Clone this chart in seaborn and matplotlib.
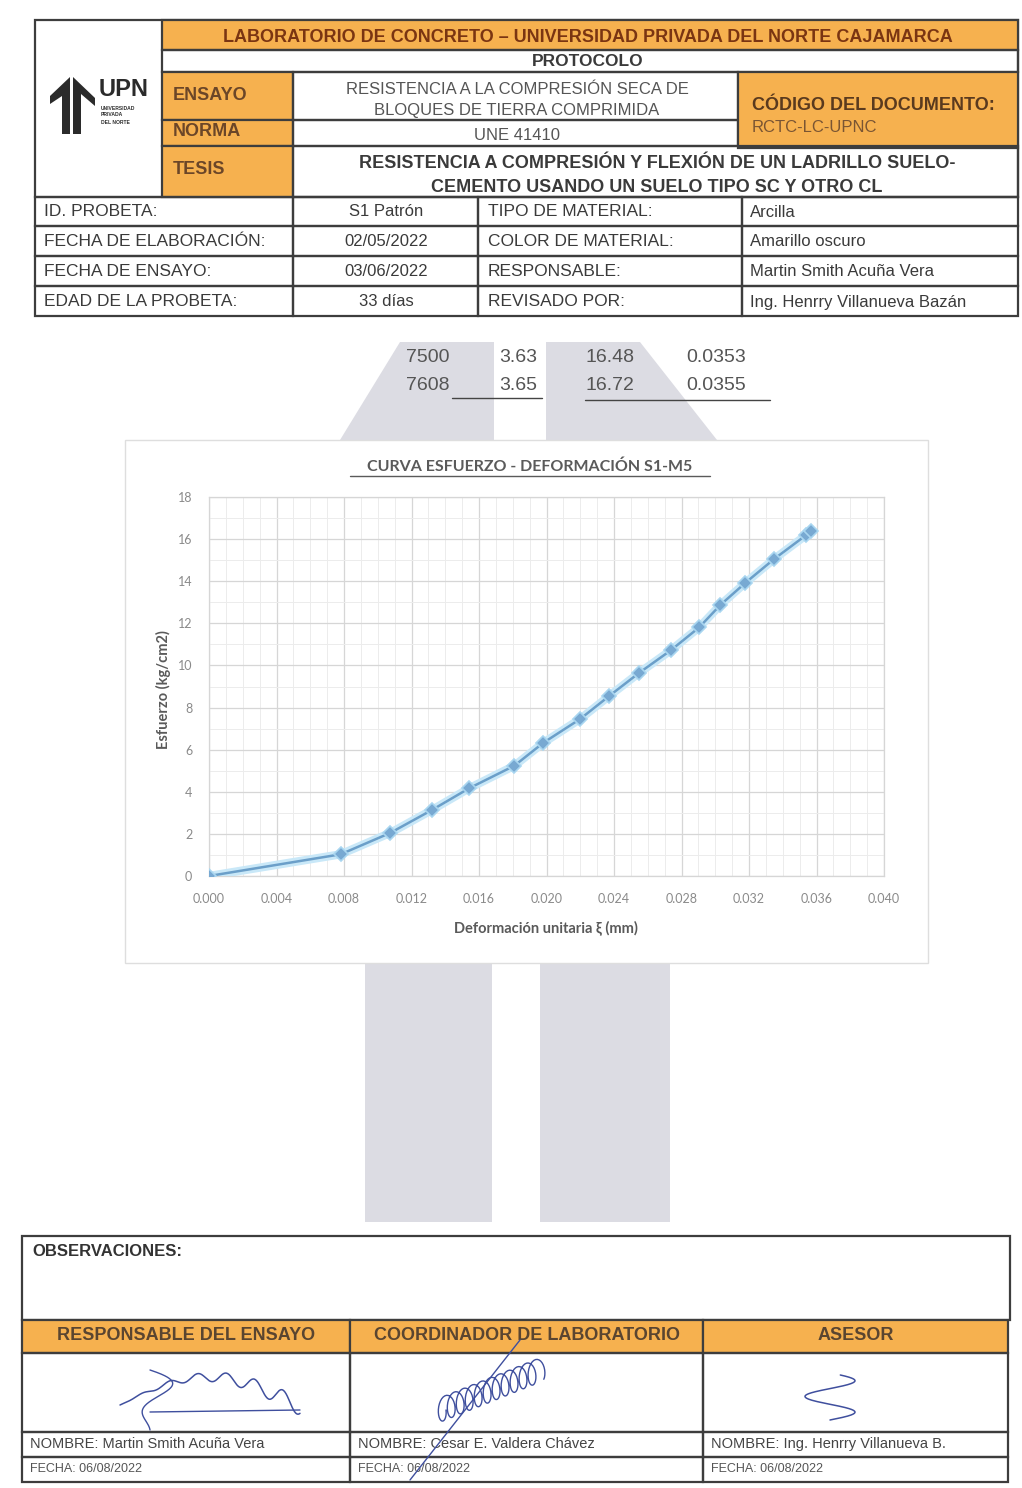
import matplotlib.pyplot as plt
import matplotlib.patches as mpatches
from matplotlib.ticker import MultipleLocator, FormatStrFormatter
import numpy as np
import pandas as pd
import seaborn as sns

W, H = 1022, 1488

# stress-strain curve
deformacion = [0.0, 0.0078, 0.01075, 0.0132, 0.0154, 0.0181, 0.0198, 0.0220,
               0.0237, 0.02546, 0.02735, 0.02905, 0.0303, 0.03178, 0.03348,
               0.0354, 0.0357]
esfuerzo = [0.0, 1.03, 2.05, 3.13, 4.16, 5.24, 6.32, 7.46, 8.54, 9.63, 10.71,
            11.81, 12.87, 13.92, 15.05, 16.2, 16.4]

# last two readings printed above the chart
carga = ["7500", "7608"]
desplazamiento = ["3.63", "3.65"]
esfuerzo_tab = ["16.48", "16.72"]
deform_tab = ["0.0353", "0.0355"]

# header data
id_labels = ["ID. PROBETA:", "FECHA DE ELABORACIÓN:", "FECHA DE ENSAYO:", "EDAD DE LA PROBETA:"]
id_values = ["S1 Patrón", "02/05/2022", "03/06/2022", "33 días"]
mat_labels = ["TIPO DE MATERIAL:", "COLOR DE MATERIAL:", "RESPONSABLE:", "REVISADO POR:"]
mat_values = ["Arcilla", "Amarillo oscuro", "Martin Smith Acuña Vera", "Ing. Henrry Villanueva Bazán"]

firma_titulos = ["RESPONSABLE DEL ENSAYO", "COORDINADOR DE LABORATORIO", "ASESOR"]
firma_nombres = ["NOMBRE: Martin Smith Acuña Vera", "NOMBRE: Cesar E. Valdera Chávez",
                 "NOMBRE: Ing. Henrry Villanueva B."]
firma_fechas = ["FECHA: 06/08/2022", "FECHA: 06/08/2022", "FECHA: 06/08/2022"]

ORANGE = "#f6b14f"
LINE = "#3d3d3d"
NARROW = ["Liberation Sans Narrow", "Liberation Sans", "DejaVu Sans"]
CHART_FONT = ["Lato", "DejaVu Sans"]

sns.set_style("white")
plt.rcParams["font.family"] = NARROW

fig = plt.figure(figsize=(W / 100, H / 100), dpi=100)
doc = fig.add_axes([0, 0, 1, 1])
doc.set_xlim(0, W)
doc.set_ylim(H, 0)
doc.axis("off")


def box(x0, y0, x1, y1, fc="none", lw=1.6, z=2):
    doc.add_patch(mpatches.Rectangle((x0, y0), x1 - x0, y1 - y0, facecolor=fc,
                                     edgecolor=LINE, linewidth=lw, zorder=z))


def txt(x, y, s, size=12, ha="left", weight="normal", color="#333333", **kw):
    doc.text(x, y, s, fontsize=size, ha=ha, va="center", fontweight=weight,
             color=color, zorder=5, **kw)


# ---- header block
box(35, 20, 1018, 197)
box(162, 20, 1018, 50, fc=ORANGE)
box(162, 50, 1018, 72)
box(162, 72, 293, 120, fc=ORANGE)
box(162, 120, 293, 146, fc=ORANGE)
box(162, 146, 293, 197, fc=ORANGE)
box(293, 72, 738, 120)
box(293, 120, 738, 146)
box(738, 72, 1018, 148, fc=ORANGE)
box(293, 146, 1018, 197)

txt(588, 37, "LABORATORIO DE CONCRETO – UNIVERSIDAD PRIVADA DEL NORTE CAJAMARCA",
    size=13, ha="center", weight="bold", color="#7a3512")
txt(588, 62, "PROTOCOLO", size=12.5, ha="center", weight="bold", color="#3a3a3a")
txt(173, 96, "ENSAYO", size=13, weight="bold", color="#6b4628")
txt(173, 132, "NORMA", size=13, weight="bold", color="#6b4628")
txt(173, 170, "TESIS", size=13, weight="bold", color="#6b4628")
txt(517, 89, "RESISTENCIA A LA COMPRESIÓN SECA DE", size=12, ha="center", color="#555555")
txt(517, 111, "BLOQUES DE TIERRA COMPRIMIDA", size=12, ha="center", color="#555555")
txt(517, 135, "UNE 41410", size=12, ha="center", color="#555555")
txt(752, 106, "CÓDIGO DEL DOCUMENTO:", size=13, weight="bold", color="#5a3a1e")
txt(752, 127, "RCTC-LC-UPNC", size=12, color="#7a5533")
txt(657, 163, "RESISTENCIA A COMPRESIÓN Y FLEXIÓN DE UN LADRILLO SUELO-",
    size=13, ha="center", weight="bold", color="#3a3a3a")
txt(657, 187, "CEMENTO USANDO UN SUELO TIPO SC Y OTRO CL",
    size=13, ha="center", weight="bold", color="#3a3a3a")

# logo
doc.add_patch(mpatches.Polygon([(62, 134), (62, 96), (50, 104), (50, 96), (70, 77),
                                (70, 134)], closed=True, fc="#2b2b2b", ec="none", zorder=4))
doc.add_patch(mpatches.Polygon([(73, 134), (73, 77), (95, 98), (95, 106), (81, 94),
                                (81, 134)], closed=True, fc="#2b2b2b", ec="none", zorder=4))
txt(99, 89, "UPN", size=17, weight="bold", color="#2b2b2b")
for k, s in enumerate(["UNIVERSIDAD", "PRIVADA", "DEL NORTE"]):
    txt(101, 108 + k * 7, s, size=3.6, color="#2b2b2b", weight="bold")

# data rows
rows = [197, 226, 256, 286, 316]
cols = [35, 293, 478, 742, 1018]
for r in range(4):
    for c in range(4):
        box(cols[c], rows[r], cols[c + 1], rows[r + 1])
    yc = (rows[r] + rows[r + 1]) / 2
    txt(44, yc, id_labels[r], size=12.5, color="#3a3a3a")
    txt(386, yc, id_values[r], size=12, ha="center", color="#3a3a3a")
    txt(488, yc, mat_labels[r], size=12.5, color="#3a3a3a")
    txt(750, yc + 1, mat_values[r], size=12, color="#3a3a3a")

# ---- watermark (faint UPN shapes behind the chart)
WM = "#dcdce3"
doc.add_patch(mpatches.Polygon([(340, 440), (400, 342), (494, 342), (494, 440)],
                               closed=True, fc=WM, ec="none", zorder=0))
doc.add_patch(mpatches.Polygon([(546, 440), (546, 342), (640, 342), (717, 440)],
                               closed=True, fc=WM, ec="none", zorder=0))
doc.add_patch(mpatches.Rectangle((365, 960), 127, 262, fc=WM, ec="none", zorder=0))
doc.add_patch(mpatches.Rectangle((540, 960), 130, 262, fc=WM, ec="none", zorder=0))

# readings above chart
for k in range(2):
    yy = 358 + k * 28
    txt(428, yy, carga[k], size=14, ha="center", color="#555555")
    txt(518, yy, desplazamiento[k], size=14, ha="center", color="#555555")
    txt(610, yy, esfuerzo_tab[k], size=14, ha="center", color="#555555")
    txt(716, yy, deform_tab[k], size=14, ha="center", color="#555555")
doc.plot([452, 542], [398, 398], color="#444444", lw=1, zorder=5)
doc.plot([585, 770], [400, 400], color="#444444", lw=1, zorder=5)

# chart frame
doc.add_patch(mpatches.Rectangle((125, 440), 803, 523, fc="white", ec="#dedede",
                                 lw=1, zorder=1))
doc.text(530, 467, "CURVA ESFUERZO - DEFORMACIÓN S1-M5", fontsize=11.5, ha="center",
         va="center", fontweight="bold", color="#5a5a5a", family=CHART_FONT, zorder=5)
doc.plot([350, 710], [476, 476], color="#5a5a5a", lw=1, zorder=5)
doc.text(163, 690, "Esfuerzo (kg/cm2)", fontsize=10.5, rotation=90, ha="center",
         va="center", fontweight="bold", color="#5a5a5a", family=CHART_FONT, zorder=5)
doc.text(546, 928, "Deformación unitaria ξ (mm)", fontsize=10.5, ha="center",
         va="center", fontweight="bold", color="#5a5a5a", family=CHART_FONT, zorder=5)

# ---- chart
x0, x1, y0, y1 = 209, 884, 876, 497
ax = fig.add_axes([x0 / W, 1 - y0 / H, (x1 - x0) / W, (y0 - y1) / H])
ax.set_facecolor("white")
curve = pd.DataFrame({"deformacion": deformacion, "esfuerzo": esfuerzo})
sns.lineplot(data=curve, x="deformacion", y="esfuerzo", ax=ax, color="#c9e8f8",
             linewidth=6, sort=False, zorder=3)
sns.lineplot(data=curve, x="deformacion", y="esfuerzo", ax=ax, color="#6b9fc9",
             linewidth=1.8, marker="D", markersize=7, markerfacecolor="#78a9d2",
             markeredgecolor="#a9d6f0", markeredgewidth=1.2, sort=False, zorder=4)
ax.set_xlim(0, 0.040)
ax.set_ylim(0, 18)
ax.xaxis.set_major_locator(MultipleLocator(0.004))
ax.xaxis.set_minor_locator(MultipleLocator(0.001))
ax.yaxis.set_major_locator(MultipleLocator(2))
ax.yaxis.set_minor_locator(MultipleLocator(1))
ax.xaxis.set_major_formatter(FormatStrFormatter("%.3f"))
ax.grid(which="major", color="#d6d6d6", lw=0.9)
ax.grid(which="minor", color="#ececec", lw=0.7)
ax.set_axisbelow(True)
for sp in ax.spines.values():
    sp.set_color("#d6d6d6")
    sp.set_linewidth(0.9)
ax.tick_params(which="both", length=0, labelsize=9, labelcolor="#8a8a8a")
ax.tick_params(axis="x", pad=12)
ax.tick_params(axis="y", pad=12)
for lab in ax.get_xticklabels() + ax.get_yticklabels():
    lab.set_family(CHART_FONT)
ax.set_xlabel("")
ax.set_ylabel("")

# ---- bottom block
box(22, 1236, 1010, 1320)
txt(32, 1252, "OBSERVACIONES:", size=12, weight="bold", color="#333333")
fx = [22, 350, 703, 1008]
for c in range(3):
    box(fx[c], 1320, fx[c + 1], 1353, fc=ORANGE)
    box(fx[c], 1353, fx[c + 1], 1432)
    box(fx[c], 1432, fx[c + 1], 1457)
    box(fx[c], 1457, fx[c + 1], 1482)
    txt((fx[c] + fx[c + 1]) / 2, 1336, firma_titulos[c], size=13, ha="center",
        weight="bold", color="#5a4530")
    txt(fx[c] + 8, 1444, firma_nombres[c], size=10.5, color="#444444")
    txt(fx[c] + 8, 1469, firma_fechas[c], size=9, color="#555555")

# signatures (ink scribbles)
INK = "#3f4f9e"
t = np.linspace(0, 1, 300)
doc.plot(120 + 180 * t, 1405 - 28 * np.sin(t * 3.2) + 9 * np.sin(t * 40) * t,
         color=INK, lw=1.1, zorder=6)
doc.plot([150, 300], [1412, 1410], color=INK, lw=1, zorder=6)
doc.plot(150 + 30 * np.sin(t * 6) * (1 - t), 1370 + 60 * t, color=INK, lw=1, zorder=6)
doc.plot(440 + 100 * t + 6 * np.cos(t * 70), 1410 - 40 * t + 12 * np.sin(t * 70),
         color=INK, lw=1, zorder=6)
doc.plot(520 - 110 * t, 1340 + 140 * t, color=INK, lw=1, zorder=6)
doc.plot(830 + 25 * np.sin(t * 9), 1420 - 45 * t, color=INK, lw=1.1, zorder=6)

fig.savefig("out.png", dpi=100, facecolor="white")
